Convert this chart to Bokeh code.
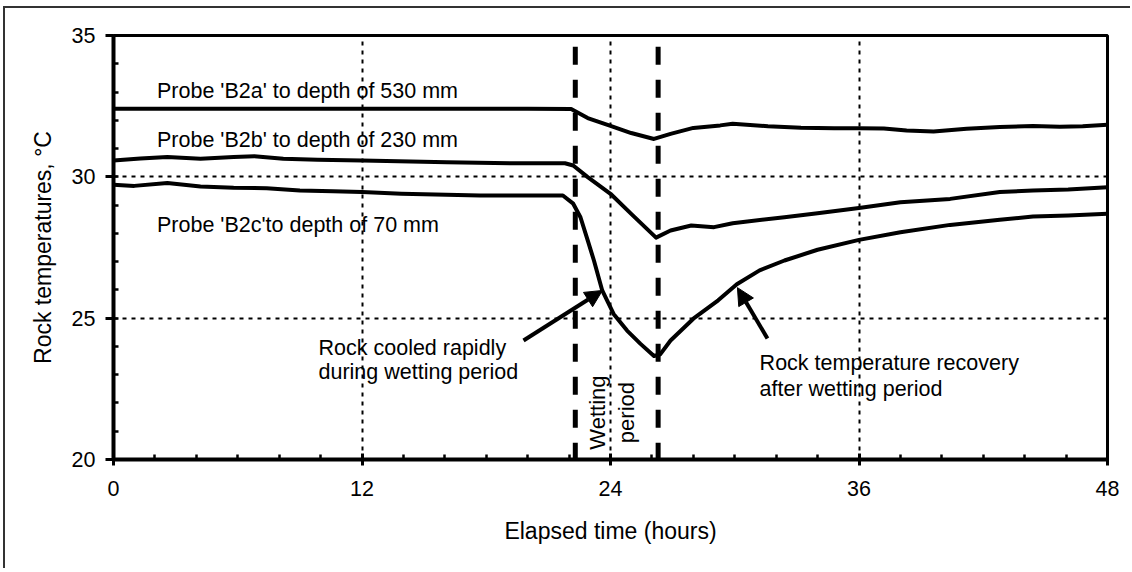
import math
from bokeh.plotting import figure
from bokeh.models import Range1d, FixedTicker, Arrow, NormalHead, ColumnDataSource
from bokeh.core.properties import value
from bokeh.embed import file_html
from bokeh.resources import INLINE

# ---- data ----
hours_a = [0, 4, 8, 12, 16, 20, 22.1, 22.9, 24.0, 25.0, 26.1, 26.9, 28.0, 29.3,
           29.9, 31.6, 33.2, 34.8, 36.0, 37.2, 38.3, 39.6, 41.2, 42.8, 44.4, 45.7, 46.8, 48]
temp_a = [32.41, 32.41, 32.41, 32.41, 32.41, 32.41, 32.40, 32.08, 31.80, 31.55, 31.34,
          31.52, 31.73, 31.82, 31.88, 31.79, 31.74, 31.72, 31.72, 31.71, 31.64, 31.60, 31.70,
          31.76, 31.80, 31.77, 31.79, 31.84]

hours_b = [0, 1.3, 2.6, 4.2, 5.8, 6.8, 8.2, 9.85, 12, 16.1, 19.3, 21.8, 22.2, 22.9, 24.0,
           25.0, 26.2, 26.9, 27.9, 29.0, 29.9, 32.4, 34.0, 36.0, 38.0, 40.4, 42.8, 44.4,
           46.1, 48]
temp_b = [30.58, 30.65, 30.70, 30.64, 30.70, 30.73, 30.64, 30.60, 30.58, 30.52, 30.48, 30.48,
          30.40, 29.99, 29.40, 28.69, 27.85, 28.10, 28.28, 28.22, 28.36, 28.57, 28.71, 28.90,
          29.10, 29.22, 29.46, 29.52, 29.55, 29.63]

hours_c = [0, 1.0, 2.6, 4.2, 5.8, 7.4, 9.0, 10.6, 12, 13.9, 17.7, 21.7, 22.2, 22.55, 22.9,
           23.2, 23.6, 24.15, 24.8, 25.45, 26.1, 26.4, 26.9, 28.0, 29.2, 30.1, 31.2, 32.4,
           34.0, 36.0, 38.0, 40.4, 42.8, 44.4, 46.1, 48]
temp_c = [29.72, 29.68, 29.78, 29.66, 29.61, 29.60, 29.52, 29.49, 29.46, 29.40, 29.34, 29.34,
          29.05, 28.57, 27.75, 27.04, 25.98, 25.15, 24.56, 24.09, 23.66, 23.72, 24.21, 24.98,
          25.63, 26.20, 26.69, 27.04, 27.42, 27.77, 28.04, 28.30, 28.48, 28.60, 28.63, 28.69]

wetting_start = 22.3
wetting_end = 26.3

x_ticks = [0, 12, 24, 36, 48]
y_ticks = [20, 25, 30, 35]

probe_labels = ["Probe 'B2a' to depth of 530 mm",
                "Probe 'B2b' to depth of 230 mm",
                "Probe 'B2c'to depth of 70 mm"]
probe_label_x = [2.1, 2.1, 2.1]
probe_label_y = [33.03, 31.32, 28.28]

note_text = ["Rock cooled rapidly", "during wetting period",
             "Rock temperature recovery", "after wetting period"]
note_x = [9.9, 9.9, 31.2, 31.2]
note_y = [23.96, 23.08, 23.43, 22.51]

wet_text = ["Wetting", "period"]
wet_text_x = [23.37, 24.77]
wet_text_y = [21.66, 21.66]

arrow_x0 = [19.80, 31.58]
arrow_y0 = [24.21, 24.28]
arrow_x1 = [23.61, 30.13]
arrow_y1 = [25.98, 26.08]

FONT = "Liberation Sans"

p = figure(width=1127, height=562, output_backend="svg", toolbar_location=None,
           x_range=Range1d(0, 48), y_range=Range1d(20, 35),
           min_border_left=108, min_border_right=25, min_border_top=27, min_border_bottom=111)
p.styles = {"margin-left": "3px", "margin-top": "6px",
            "border-left": "2px solid #333333", "border-top": "2px solid #333333"}
p.background_fill_color = "white"
p.border_fill_color = "white"
p.outline_line_color = "black"
p.outline_line_width = 3

p.xaxis.ticker = FixedTicker(ticks=x_ticks, minor_ticks=list(range(0, 49, 2)))
p.yaxis.ticker = FixedTicker(ticks=y_ticks, minor_ticks=list(range(20, 36)))
p.xgrid.ticker = FixedTicker(ticks=[12, 24, 36])
p.ygrid.ticker = FixedTicker(ticks=[25, 30])
for g in (p.xgrid, p.ygrid):
    g.grid_line_color = "black"
    g.grid_line_width = 2
    g.grid_line_dash = "4 5"

for ax in (p.xaxis, p.yaxis):
    ax.axis_line_width = 4
    ax.axis_line_color = "black"
    ax.major_tick_line_width = 3
    ax.minor_tick_line_width = 2.5
    ax.major_tick_line_color = "black"
    ax.minor_tick_line_color = "black"
    ax.minor_tick_in = 5
    ax.minor_tick_out = 0
    ax.major_label_text_font = FONT
    ax.major_label_text_font_size = "21.5px"
    ax.major_label_text_color = "black"
    ax.axis_label_text_font = FONT
    ax.axis_label_text_font_size = "23px"
    ax.axis_label_text_font_style = "normal"
    ax.axis_label_text_color = "black"

p.xaxis.major_tick_in = 6
p.xaxis.major_tick_out = 6
p.yaxis.major_tick_in = 0
p.yaxis.major_tick_out = 8
p.xaxis.major_label_standoff = 15
p.yaxis.major_label_standoff = 10
p.xaxis.axis_label = "Elapsed time (hours)"
p.yaxis.axis_label = "Rock temperatures, °C"
p.xaxis.axis_label_standoff = 19
p.yaxis.axis_label_standoff = 13

# wetting period boundaries
p.segment(x0=[wetting_start, wetting_end], y0=[34.6, 34.6],
          x1=[wetting_start, wetting_end], y1=[20, 20],
          line_color="black", line_width=5, line_dash="18 15")

for hx, ty in ((hours_a, temp_a), (hours_b, temp_b), (hours_c, temp_c)):
    p.line(hx, ty, line_color="black", line_width=4, line_join="round")

p.text(x=probe_label_x, y=probe_label_y, text=probe_labels, text_font=value(FONT),
       text_font_size=value("21.5px"), text_color="black",
       text_align="left", text_baseline="alphabetic")
p.text(x=note_x, y=note_y, text=note_text, text_font=value(FONT),
       text_font_size=value("21.5px"), text_color="black",
       text_align="left", text_baseline="alphabetic")
p.text(x=wet_text_x, y=wet_text_y, text=wet_text, text_font=value(FONT),
       text_font_size=value("22px"), text_color="black", angle=math.pi / 2,
       text_align="center", text_baseline="middle")

asrc = ColumnDataSource(dict(x0=arrow_x0, y0=arrow_y0, x1=arrow_x1, y1=arrow_y1))
p.add_layout(Arrow(end=NormalHead(size=17, fill_color="black", line_color="black", line_width=1),
                   x_start="x0", y_start="y0", x_end="x1", y_end="y1", source=asrc,
                   line_color="black", line_width=4))

open("out.html", "w").write(file_html(p, INLINE))
